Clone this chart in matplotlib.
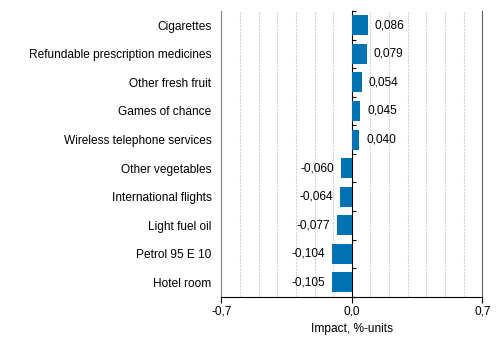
import numpy as np
import matplotlib
matplotlib.use("Agg")
import matplotlib.pyplot as plt

categories = [
    "Cigarettes",
    "Refundable prescription medicines",
    "Other fresh fruit",
    "Games of chance",
    "Wireless telephone services",
    "Other vegetables",
    "International flights",
    "Light fuel oil",
    "Petrol 95 E 10",
    "Hotel room",
]
values = [0.086, 0.079, 0.054, 0.045, 0.040, -0.060, -0.064, -0.077, -0.104, -0.105]
x_ticks = [-0.7, 0.0, 0.7]
x_tick_labels = ["-0,7", "0,0", "0,7"]

bar_colour = "#0072b2"
plt.rcParams["font.family"] = ["Liberation Sans", "DejaVu Sans"]
plt.rcParams["font.size"] = 8.6

fig = plt.figure(figsize=(4.99, 3.4), dpi=100)
ax = fig.add_axes([0.4435, 0.1274, 0.5230, 0.8402])

y = np.arange(len(categories))
ax.barh(y, values, height=0.7, color=bar_colour, zorder=3)
ax.set_ylim(len(categories) - 0.5, -0.5)
ax.set_xlim(-0.7, 0.7)

# light vertical grid every 0.1
for gx in np.arange(-0.6, 0.61, 0.1):
    if abs(gx) > 1e-9:
        ax.axvline(gx, color="#d4d4d4", lw=0.8, ls=(0, (2, 1)), zorder=1)

ax.spines["top"].set_visible(False)
ax.spines["left"].set_color("#808080")
ax.spines["right"].set_color("#606060")
ax.spines["bottom"].set_color("black")

ax.set_yticks(y)
ax.set_yticklabels(categories)
ax.tick_params(axis="y", length=0, pad=7)
ax.set_xticks(x_ticks)
ax.set_xticklabels(x_tick_labels)
ax.tick_params(axis="x", length=4, width=0.8, pad=2)
ax.set_xlabel("Impact, %-units", labelpad=4)

# zero axis with ticks at category boundaries
zero_ax = ax.secondary_yaxis(0.5)
zero_ax.set_yticks(np.arange(len(categories) + 1) - 0.5)
zero_ax.set_yticklabels([])
zero_ax.tick_params(axis="y", length=3, width=0.8, direction="out")
zero_ax.spines["left"].set_color("black")

for yi, v in zip(y, values):
    label = f"{v:.3f}".replace(".", ",")
    if v >= 0:
        ax.annotate(label, (v, yi), xytext=(5, 0), textcoords="offset points",
                    ha="left", va="center")
    else:
        ax.annotate(label, (v, yi), xytext=(-5, 0), textcoords="offset points",
                    ha="right", va="center")

fig.savefig("out.png", dpi=100)
